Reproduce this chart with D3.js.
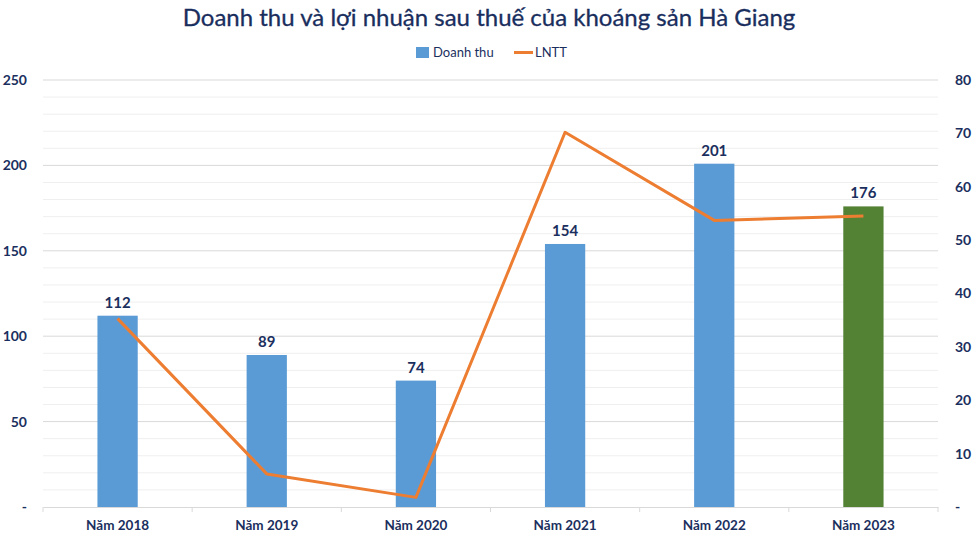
<!DOCTYPE html>
<html>
<head>
<meta charset="utf-8">
<script src="https://cdn.jsdelivr.net/npm/d3@7"></script>
<style>
  body { margin: 0; background: #fff; }
  text { font-family: Lato, "Open Sans", sans-serif; fill: #1b2f5e; }
</style>
</head>
<body>
<div id="chart"></div>
<script>
var years = ["Năm 2018", "Năm 2019", "Năm 2020", "Năm 2021", "Năm 2022", "Năm 2023"];
var revenue = [112, 89, 74, 154, 201, 176];
var profit = [35.3, 6.2, 1.8, 70.2, 53.7, 54.5];
var leftTicks = [0, 50, 100, 150, 200, 250];
var rightTicks = [0, 10, 20, 30, 40, 50, 60, 70, 80];

var svgW = 980, svgH = 539;
var margin = { top: 80, right: 42, bottom: 32, left: 43 };
var width = svgW - margin.left - margin.right;
var height = svgH - margin.top - margin.bottom;

var svg = d3.select("#chart").append("svg")
  .attr("width", svgW)
  .attr("height", svgH);

var g = svg.append("g")
  .attr("transform", `translate(${margin.left}, ${margin.top})`);

var x = d3.scaleBand().domain(years).range([0, width]).paddingInner(0.73).paddingOuter(0.365);
var xCat = d3.scaleBand().domain(years).range([0, width]);
var yL = d3.scaleLinear().domain([0, 250]).range([height, 0]);
var yR = d3.scaleLinear().domain([0, 80]).range([height, 0]);

// gridlines, minor every 10, major every 50
g.selectAll(".grid")
  .data(d3.range(10, 251, 10))
  .enter().append("line")
  .attr("x1", 0).attr("x2", width)
  .attr("y1", d => yL(d)).attr("y2", d => yL(d))
  .attr("stroke", d => d % 50 === 0 ? "#d9d9d9" : "#efefef")
  .attr("stroke-width", 1);

// bars
g.selectAll(".bar")
  .data(revenue)
  .enter().append("rect")
  .attr("x", (d, i) => x(years[i]))
  .attr("y", d => yL(d))
  .attr("width", x.bandwidth())
  .attr("height", d => height - yL(d))
  .attr("fill", (d, i) => i === years.length - 1 ? "#548235" : "#5b9bd5");

g.selectAll(".val")
  .data(revenue)
  .enter().append("text")
  .attr("x", (d, i) => x(years[i]) + x.bandwidth() / 2)
  .attr("y", d => yL(d) - 8)
  .attr("text-anchor", "middle")
  .attr("font-size", 15)
  .attr("font-weight", "bold")
  .text(d => d);

// line
var line = d3.line()
  .x((d, i) => x(years[i]) + x.bandwidth() / 2)
  .y(d => yR(d));

g.append("path")
  .datum(profit)
  .attr("d", line)
  .attr("fill", "none")
  .attr("stroke", "#ed7d31")
  .attr("stroke-width", 3)
  .attr("stroke-linejoin", "round");

// x axis
var xAxis = g.append("g")
  .attr("transform", `translate(0, ${height})`)
  .call(d3.axisBottom(xCat).tickSize(0).tickPadding(13));
xAxis.select(".domain").attr("stroke", "#d9d9d9");
xAxis.selectAll("text")
  .attr("font-size", 13.5)
  .attr("font-weight", "bold")
  .attr("fill", "#1b2f5e");

g.selectAll(".sep")
  .data(d3.range(0, years.length + 1))
  .enter().append("line")
  .attr("x1", d => d * xCat.step()).attr("x2", d => d * xCat.step())
  .attr("y1", height).attr("y2", height + 5)
  .attr("stroke", "#d9d9d9");

// left axis
var leftAxis = g.append("g")
  .call(d3.axisLeft(yL).tickValues(leftTicks).tickSize(0).tickPadding(16)
    .tickFormat(d => d === 0 ? "-" : d));
leftAxis.select(".domain").remove();
leftAxis.selectAll("text")
  .attr("font-size", 14)
  .attr("font-weight", "bold")
  .attr("fill", "#1b2f5e");

// right axis
var rightAxis = g.append("g")
  .attr("transform", `translate(${width}, 0)`)
  .call(d3.axisRight(yR).tickValues(rightTicks).tickSize(0).tickPadding(17)
    .tickFormat(d => d === 0 ? "-" : d));
rightAxis.select(".domain").remove();
rightAxis.selectAll("text")
  .attr("font-size", 14)
  .attr("font-weight", "bold")
  .attr("fill", "#1b2f5e");

// title
svg.append("text")
  .attr("x", 489)
  .attr("y", 26)
  .attr("text-anchor", "middle")
  .attr("font-size", 24)
  .attr("fill", "#132a5c")
  .attr("stroke", "#132a5c")
  .attr("stroke-width", 0.3)
  .text("Doanh thu và lợi nhuận sau thuế của khoáng sản Hà Giang");

// legend
var legend = svg.append("g");
legend.append("rect")
  .attr("x", 416).attr("y", 47)
  .attr("width", 13).attr("height", 11)
  .attr("fill", "#5b9bd5");
legend.append("text")
  .attr("x", 433).attr("y", 57)
  .attr("font-size", 13)
  .text("Doanh thu");
legend.append("line")
  .attr("x1", 514).attr("x2", 533)
  .attr("y1", 52.5).attr("y2", 52.5)
  .attr("stroke", "#ed7d31").attr("stroke-width", 3);
legend.append("text")
  .attr("x", 535).attr("y", 57)
  .attr("font-size", 13)
  .text("LNTT");
</script>
</body>
</html>
